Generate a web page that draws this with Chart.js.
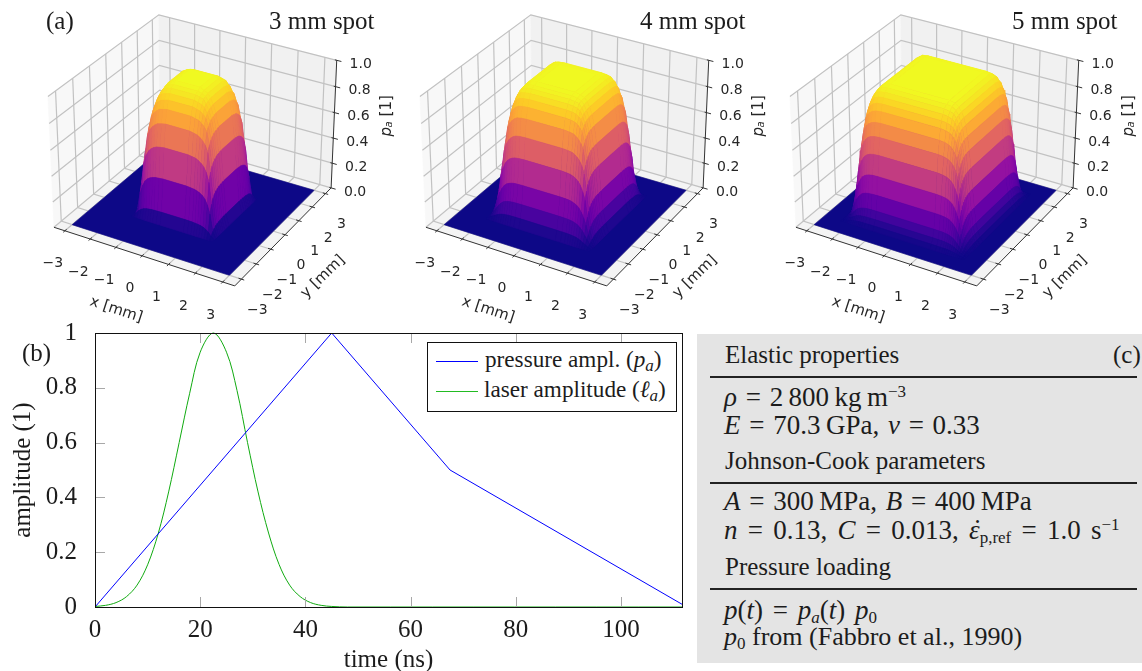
<!DOCTYPE html>
<html>
<head>
<meta charset="utf-8">
<script src="https://cdn.jsdelivr.net/npm/chart.js@4/dist/chart.umd.min.js"></script>
<style>
  html, body { margin: 0; background: #fff; }
  #page { position: relative; width: 1142px; height: 671px; overflow: hidden; font-family: "Liberation Serif", serif; color: #1c1c1c; }
  #page canvas { position: absolute; top: 0; }
  .t { position: absolute; font-size: 25px; line-height: 30px; white-space: nowrap; }
  .m { font-size: 27px; word-spacing: 2px; }
  .t sub, .t sup { font-size: 17px; line-height: 0; }
  .t sub { vertical-align: -4px; }
  .t sup { vertical-align: 9px; }
  #panelC { position: absolute; left: 697px; top: 334px; width: 445px; height: 329px; background: #e4e4e4; }
  .rule { position: absolute; left: 710px; width: 427px; height: 1.5px; background: #222; }
  #legendB { position: absolute; left: 427px; top: 342px; width: 248px; height: 68px; background: #fff; border: 1px solid #111; }
  .swatch { position: absolute; left: 436px; width: 42px; height: 1px; }
  .eps { position: relative; }
  .eps b { position: absolute; left: 4px; top: -1px; font-weight: normal; }
</style>
</head>
<body>
<div id="page">
  <canvas id="spot3" width="400" height="330" style="left:0"></canvas>
  <canvas id="spot4" width="400" height="330" style="left:372px"></canvas>
  <canvas id="spot5" width="400" height="330" style="left:742px"></canvas>
  <canvas id="amp" width="700" height="363" style="left:0;top:308px"></canvas>

  <div class="t" style="left:46px;top:6px">(a)</div>
  <div class="t" style="left:269px;top:6px">3 mm spot</div>
  <div class="t" style="left:640px;top:6px">4 mm spot</div>
  <div class="t" style="left:1012px;top:6px">5 mm spot</div>
  <div class="t" style="left:22px;top:338px">(b)</div>

  <div id="legendB"></div>
  <div class="swatch" style="top:361px;background:#0000ff"></div>
  <div class="swatch" style="top:391px;background:#22bb22"></div>
  <div class="t" style="left:485px;top:344px;font-size:23.2px">pressure ampl. (<i>p<sub>a</sub></i>)</div>
  <div class="t" style="left:484px;top:374px;font-size:23.2px">laser amplitude (<i>ℓ<sub>a</sub></i>)</div>

  <div id="panelC"></div>
  <div class="rule" style="top:376px"></div>
  <div class="rule" style="top:482px"></div>
  <div class="rule" style="top:588px"></div>
  <div class="t" style="left:725px;top:340px">Elastic properties</div>
  <div class="t" style="left:1113px;top:340px">(c)</div>
  <div class="t m" style="left:724px;top:382px"><i>ρ</i> = 2&#8201;800&#8201;kg&#8201;m<sup>−3</sup></div>
  <div class="t m" style="left:724px;top:410px"><i>E</i> = 70.3&#8201;GPa, <i>ν</i> = 0.33</div>
  <div class="t" style="left:725px;top:446px">Johnson-Cook parameters</div>
  <div class="t m" style="left:724px;top:486px"><i>A</i> = 300&#8201;MPa, <i>B</i> = 400&#8201;MPa</div>
  <div class="t m" style="left:724px;top:515px;word-spacing:3.5px"><i>n</i> = 0.13, <i>C</i> = 0.013, <span class="eps"><i>ε</i><b>˙</b></span><sub>p,ref</sub> = 1.0 s<sup>−1</sup></div>
  <div class="t" style="left:725px;top:552px">Pressure loading</div>
  <div class="t m" style="left:724px;top:595px;word-spacing:3px"><i>p</i>(<i>t</i>) = <i>p<sub>a</sub></i>(<i>t</i>) <i>p</i><sub>0</sub></div>
  <div class="t" style="left:724px;top:622px;font-size:26px"><i>p</i><sub>0</sub> from (Fabbro et al., 1990)</div>
</div>

<script>
// (a) edge profile of the pressure, read per spot, from the rim inwards (mm, 1)
const spot3Radii = [1.56, 1.45, 1.34, 1.24, 1.14, 1.04, 0.94, 0.84, 0.74, 0.60, 0.45];
const spot3Heights = [0, 0.09, 0.34, 0.57, 0.74, 0.84, 0.90, 0.94, 0.97, 0.985, 1];
const spot4Radii = [1.99, 1.88, 1.78, 1.69, 1.60, 1.51, 1.42, 1.33, 1.24, 1.15, 1.05, 0.90, 0.70];
const spot4Heights = [0, 0.07, 0.17, 0.31, 0.50, 0.66, 0.79, 0.87, 0.92, 0.955, 0.98, 0.992, 1];
const spot5Radii = [2.36, 2.27, 2.18, 2.11, 2.04, 1.97, 1.90, 1.83, 1.76, 1.69, 1.62, 1.54, 1.44, 1.30, 1.10];
const spot5Heights = [0, 0.03, 0.07, 0.13, 0.245, 0.385, 0.54, 0.67, 0.77, 0.85, 0.90, 0.94, 0.97, 0.99, 1];
const xyTicks = [-3, -2, -1, 0, 1, 2, 3];
const zTicks = [0, 0.2, 0.4, 0.6, 0.8, 1];

// (b) amplitudes over time
const pressureTime = [0, 45, 67.5, 112.5];
const pressureAmp = [0, 1, 0.5, 0];
const laserTime = [0, 2, 4, 6, 8, 10, 12, 14, 16, 18, 20, 22.5, 25, 27, 29, 31, 33, 35, 37, 39, 41, 43, 45, 48, 111.6];
const laserAmp = [0.002, 0.006, 0.016, 0.038, 0.08, 0.154, 0.267, 0.42, 0.6, 0.78, 0.93, 1, 0.93, 0.79, 0.6, 0.42, 0.27, 0.155, 0.08, 0.038, 0.016, 0.006, 0.002, 0, 0];

const plasma = ['#0d0887', '#41049d', '#6a00a8', '#8f0da4', '#b12a90', '#cc4778', '#e16462', '#f1844b', '#fca636', '#fcce25', '#f0f921'];

function plasmaColor(v) {
  const p = Math.min(Math.max(v, 0), 1) * (plasma.length - 1);
  const i = Math.min(Math.floor(p), plasma.length - 2);
  const f = p - i;
  const rgb = [1, 3, 5].map(k => {
    const a = parseInt(plasma[i].substr(k, 2), 16), b = parseInt(plasma[i + 1].substr(k, 2), 16);
    return Math.round(a + (b - a) * f);
  });
  return 'rgb(' + rgb.join(',') + ')';
}

// mplot3d style view, elev 30 azim -60, box coordinates -1..1
const hz = 0.72, viewDist = 17.5, mm = 0.291;
const cx = 195, cy = 144, zoom = 103.5;
function proj(x, y, z) {
  const px = 0.866 * x + 0.5 * y;
  const py = -0.25 * x + 0.433 * y + 0.866 * z;
  const pd = 0.433 * x - 0.75 * y + 0.5 * z;
  const k = 1 / (1 - pd / viewDist);
  return { x: px * k, y: py * k };
}
const zb = v => -hz + 2 * hz * v;

function polygon(pts, color) {
  return { data: [...pts, pts[0]], showLine: true, fill: 'shape', backgroundColor: color, borderColor: color, borderWidth: 0.6, pointRadius: 0 };
}
function line(pts, color, w) {
  return { data: pts, showLine: true, fill: false, borderColor: color, borderWidth: w, pointRadius: 0 };
}

// height where the two edge profiles meet, softened a little towards the corners
const meet = (a, b) => (a === 0 || b === 0 ? 0 : a * b / Math.pow(Math.max(a, b), 0.4));

function surfaceDatasets(radii, heights) {
  const xs = [...radii.map(r => -r), ...radii.slice().reverse()];
  const fs = [...heights, ...heights.slice().reverse()];
  const out = [];
  // far to near: high y first, low x first
  for (let j = xs.length - 2; j >= 0; j--) {
    for (let i = 0; i < xs.length - 1; i++) {
      const zs = [meet(fs[i], fs[j]), meet(fs[i + 1], fs[j]), meet(fs[i + 1], fs[j + 1]), meet(fs[i], fs[j + 1])];
      const mean = (zs[0] + zs[1] + zs[2] + zs[3]) / 4;
      if (mean === 0) continue;
      const x0 = xs[i] * mm, x1 = xs[i + 1] * mm, y0 = xs[j] * mm, y1 = xs[j + 1] * mm;
      out.push(polygon([proj(x0, y0, zb(zs[0])), proj(x1, y0, zb(zs[1])), proj(x1, y1, zb(zs[2])), proj(x0, y1, zb(zs[3]))], plasmaColor(mean)));
    }
  }
  return out;
}

function boxDatasets() {
  const out = [];
  out.push(polygon([proj(-1, -1, -hz), proj(-1, 1, -hz), proj(-1, 1, hz), proj(-1, -1, hz)], '#f8f8f8'));
  out.push(polygon([proj(-1, 1, -hz), proj(1, 1, -hz), proj(1, 1, hz), proj(-1, 1, hz)], '#f1f1f1'));
  out.push(polygon([proj(-1, -1, -hz), proj(1, -1, -hz), proj(1, 1, -hz), proj(-1, 1, -hz)], '#f4f4f4'));
  const grid = '#c2c2c2';
  xyTicks.forEach(t => {
    const b = t * mm;
    out.push(line([proj(b, -1, -hz), proj(b, 1, -hz), proj(b, 1, hz)], grid, 1.2));
    out.push(line([proj(1, b, -hz), proj(-1, b, -hz), proj(-1, b, hz)], grid, 1.2));
  });
  zTicks.forEach(t => {
    out.push(line([proj(-1, -1, zb(t)), proj(-1, 1, zb(t)), proj(1, 1, zb(t))], grid, 1.2));
  });
  return out;
}

function axisDatasets() {
  const out = [], ink = '#333';
  out.push(line([proj(-1, -1, -hz), proj(1, -1, -hz), proj(1, 1, -hz), proj(1, 1, hz)], ink, 1));
  xyTicks.forEach(t => {
    const b = t * mm;
    out.push(line([proj(b, -1.03, -hz), proj(b, -0.97, -hz)], ink, 1));
    out.push(line([proj(1.03, b, -hz), proj(0.97, b, -hz)], ink, 1));
  });
  zTicks.forEach(t => out.push(line([proj(0.98, 1, zb(t)), proj(1.05, 1, zb(t))], ink, 1)));
  return out;
}

// tick labels and axis titles sit at a fixed pixel offset from the projected edge
const labels3d = {
  id: 'labels3d',
  afterDraw(chart) {
    const { ctx, scales } = chart;
    const at = p => [scales.x.getPixelForValue(p.x), scales.y.getPixelForValue(p.y)];
    ctx.save();
    ctx.fillStyle = '#262626';
    ctx.font = '14px "DejaVu Sans"';
    ctx.textAlign = 'center';
    ctx.textBaseline = 'middle';
    const txt = t => (t < 0 ? '\u2212' + (-t) : String(t));
    xyTicks.forEach(t => {
      let [px, py] = at(proj(t * mm, -1, -hz));
      ctx.fillText(txt(t), px - 12, py + 33);
      [px, py] = at(proj(1, t * mm, -hz));
      ctx.fillText(txt(t), px + 16, py + 31);
    });
    zTicks.forEach(t => {
      const [px, py] = at(proj(1, 1, zb(t)));
      ctx.fillText(t.toFixed(1), px + 24, py + 4);
    });
    const rotated = (p, dx, dy, deg, draw) => {
      const [px, py] = at(p);
      ctx.save();
      ctx.translate(px + dx, py + dy);
      ctx.rotate(deg * Math.PI / 180);
      draw();
      ctx.restore();
    };
    ctx.font = '15px "DejaVu Sans"';
    rotated(proj(0, -1, -hz), -26, 54, 18, () => ctx.fillText('x [mm]', 0, 0));
    rotated(proj(1, 0, -hz), 38, 42, -44, () => ctx.fillText('y [mm]', 0, 0));
    rotated(proj(1, 1, 0), 53, -10, -90, () => {
      ctx.textAlign = 'left';
      ctx.font = 'italic 15px "DejaVu Sans"';
      ctx.fillText('p', -21, 0);
      ctx.font = 'italic 10px "DejaVu Sans"';
      ctx.fillText('a', -12, 3);
      ctx.font = '15px "DejaVu Sans"';
      ctx.fillText('[1]', -1, 0);
    });
    ctx.restore();
  }
};

function surfaceChart(id, radii, heights) {
  const floor = polygon([proj(-3 * mm, -3 * mm, -hz), proj(3 * mm, -3 * mm, -hz), proj(3 * mm, 3 * mm, -hz), proj(-3 * mm, 3 * mm, -hz)], plasma[0]);
  const ordered = [...boxDatasets(), ...axisDatasets(), floor, ...surfaceDatasets(radii, heights)];
  new Chart(document.getElementById(id), {
    type: 'scatter',
    data: { datasets: ordered.reverse() }, // first dataset is painted last
    plugins: [labels3d],
    options: {
      responsive: false,
      animation: false,
      events: [],
      layout: { padding: 0 },
      plugins: { legend: { display: false }, tooltip: { enabled: false } },
      scales: {
        x: { type: 'linear', display: false, min: -cx / zoom, max: (400 - cx) / zoom },
        y: { type: 'linear', display: false, min: (cy - 330) / zoom, max: cy / zoom }
      }
    }
  });
}

surfaceChart('spot3', spot3Radii, spot3Heights);
surfaceChart('spot4', spot4Radii, spot4Heights);
surfaceChart('spot5', spot5Radii, spot5Heights);

// (b) frame and pgfplots style inward ticks
const frameTicks = {
  id: 'frameTicks',
  afterDatasetsDraw(chart) {
    const { ctx, chartArea: a, scales } = chart;
    ctx.save();
    ctx.strokeStyle = '#a8a8a8';
    ctx.lineWidth = 1;
    ctx.beginPath();
    scales.x.ticks.forEach(t => {
      const px = Math.round(scales.x.getPixelForValue(t.value)) + 0.5;
      ctx.moveTo(px, a.top); ctx.lineTo(px, a.top + 10);
      ctx.moveTo(px, a.bottom); ctx.lineTo(px, a.bottom - 10);
    });
    scales.y.ticks.forEach(t => {
      const py = Math.round(scales.y.getPixelForValue(t.value)) + 0.5;
      ctx.moveTo(a.left, py); ctx.lineTo(a.left + 10, py);
    });
    ctx.stroke();
    ctx.strokeStyle = '#111';
    ctx.strokeRect(a.left + 0.5, a.top + 0.5, a.right - a.left, a.bottom - a.top);
    ctx.restore();
  }
};

const serif = { family: '"Liberation Serif"', size: 25 };
const serifTitle = { family: '"Liberation Serif"', size: 25, lineHeight: 1 };
new Chart(document.getElementById('amp'), {
  type: 'scatter',
  data: {
    datasets: [
      { label: 'pressure ampl.', data: pressureTime.map((t, i) => ({ x: t, y: pressureAmp[i] })), showLine: true, borderColor: '#0000ff', borderWidth: 1, pointRadius: 0 },
      { label: 'laser amplitude', data: laserTime.map((t, i) => ({ x: t, y: laserAmp[i] })), showLine: true, tension: 0.35, borderColor: '#10aa10', borderWidth: 1, pointRadius: 0, clip: false }
    ]
  },
  plugins: [frameTicks],
  options: {
    responsive: false,
    animation: false,
    events: [],
    layout: { padding: { top: 1, right: 18 } },
    plugins: { legend: { display: false }, tooltip: { enabled: false } },
    scales: {
      x: {
        min: 0, max: 111.6,
        grid: { display: false },
        border: { display: false },
        afterFit: s => { s.height = 64; },
        ticks: { stepSize: 20, includeBounds: false, maxRotation: 0, font: serif, color: '#1c1c1c', padding: 0 },
        title: { display: true, text: 'time (ns)', font: serifTitle, color: '#1c1c1c', padding: { top: 0, bottom: -1.5 } }
      },
      y: {
        min: 0, max: 1,
        grid: { display: false },
        border: { display: false },
        afterFit: s => { s.width = 95; },
        ticks: { stepSize: 0.2, font: serif, color: '#1c1c1c', padding: 10, callback: v => String(Math.round(v * 10) / 10) },
        title: { display: true, text: 'amplitude (1)', font: serifTitle, color: '#1c1c1c', padding: { top: 11, bottom: 0 } }
      }
    }
  }
});
</script>
</body>
</html>
